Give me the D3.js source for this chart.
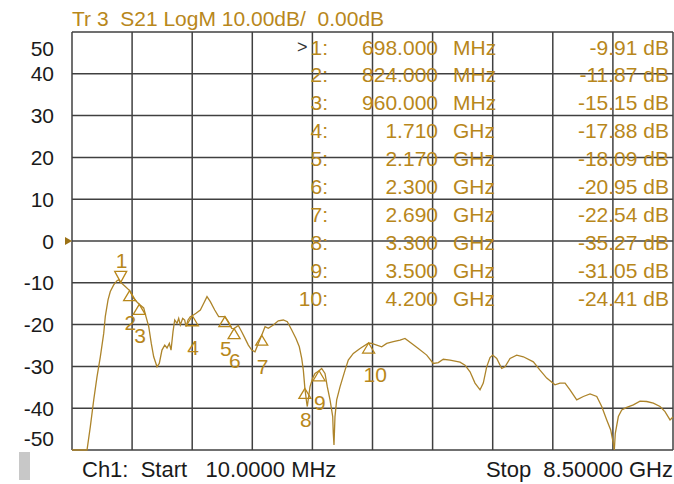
<!DOCTYPE html>
<html>
<head>
<meta charset="utf-8">
<script src="https://cdn.jsdelivr.net/npm/d3@7"></script>
<style>
  body { margin: 0; background: #fff; }
  text { font-family: "Liberation Sans", Arial, sans-serif; }
</style>
</head>
<body>
<div id="chart"></div>
<script>
var svgWidth = 674, svgHeight = 484;
var gold = "#b8871b", traceCol = "#ad842a", gridCol = "#404040";

// trace (GHz, dB)
var traceFreq = [0.010, 0.222, 0.269, 0.317, 0.363, 0.410, 0.458, 0.480, 0.519, 0.551,
  0.599, 0.646, 0.670, 0.698, 0.763, 0.824, 0.882, 0.928, 0.960, 1.023,
  1.055, 1.094, 1.130, 1.164, 1.211, 1.243, 1.281, 1.320, 1.352, 1.385,
  1.409, 1.437, 1.461, 1.493, 1.517, 1.540, 1.574, 1.602, 1.621, 1.649,
  1.681, 1.710, 1.762, 1.823, 1.871, 1.917, 1.964, 2.026, 2.082, 2.170,
  2.218, 2.266, 2.300, 2.359, 2.407, 2.454, 2.501, 2.549, 2.595, 2.642,
  2.690, 2.737, 2.783, 2.854, 2.924, 2.995, 3.052, 3.114, 3.174, 3.221,
  3.255, 3.278, 3.300, 3.326, 3.334, 3.372, 3.410, 3.443, 3.500, 3.537,
  3.584, 3.617, 3.655, 3.693, 3.701, 3.711, 3.725, 3.749, 3.796, 3.867,
  3.913, 3.984, 4.079, 4.200, 4.244, 4.315, 4.385, 4.456, 4.549, 4.644,
  4.714, 4.809, 4.902, 5.021, 5.114, 5.185, 5.255, 5.350, 5.491, 5.562,
  5.633, 5.703, 5.774, 5.820, 5.868, 5.915, 5.953, 6.010, 6.080, 6.127,
  6.198, 6.292, 6.386, 6.527, 6.621, 6.716, 6.833, 6.904, 6.975, 7.045,
  7.140, 7.233, 7.328, 7.423, 7.493, 7.564, 7.620, 7.657, 7.671, 7.685,
  7.728, 7.776, 7.846, 7.940, 8.034, 8.129, 8.222, 8.317, 8.387, 8.458, 8.500];
var traceDb = [-50.0, -50.0, -44.4, -38.0, -32.5, -27.7, -22.1, -18.1, -14.1, -12.1,
  -10.5, -9.5, -9.3, -9.91, -10.9, -11.87, -13.7, -14.6, -15.15, -16.0,
  -18.1, -20.5, -24.5, -27.7, -30.1, -29.3, -26.1, -24.9, -25.6, -24.5,
  -26.1, -21.7, -18.9, -19.7, -18.5, -20.1, -18.5, -18.9, -20.5, -18.9,
  -18.1, -17.88, -17.3, -16.5, -14.9, -13.3, -14.5, -16.5, -18.1, -18.09,
  -19.3, -20.9, -20.95, -20.2, -21.7, -23.3, -24.9, -26.1, -26.5, -24.5,
  -22.54, -20.5, -20.9, -20.1, -19.1, -18.9, -19.3, -21.3, -23.3, -25.3,
  -28.1, -30.9, -35.27, -38.8, -39.6, -34.9, -32.8, -31.7, -31.05, -30.5,
  -31.7, -34.9, -38.0, -42.0, -46.0, -48.8, -42.0, -38.0, -34.9, -30.9,
  -28.5, -26.9, -25.7, -24.41, -24.5, -24.9, -25.3, -24.5, -24.1, -23.7,
  -23.3, -24.5, -25.7, -27.3, -29.3, -29.1, -28.3, -28.5, -29.0, -29.7,
  -31.3, -34.0, -35.6, -34.0, -30.1, -27.9, -27.3, -28.1, -30.5, -30.1,
  -28.1, -27.3, -27.7, -28.9, -30.9, -32.8, -34.4, -34.0, -34.0, -35.6,
  -38.0, -37.2, -36.6, -37.2, -39.6, -42.8, -45.2, -48.4, -50.0, -46.0,
  -42.0, -40.4, -39.8, -39.2, -38.3, -38.4, -38.8, -39.6, -40.8, -42.8, -42.1];

// markers
var markerNum = [1, 2, 3, 4, 5, 6, 7, 8, 9, 10];
var markerFreq = [0.698, 0.824, 0.960, 1.710, 2.170, 2.300, 2.690, 3.300, 3.500, 4.200];
var markerDb = [-9.91, -11.87, -15.15, -17.88, -18.09, -20.95, -22.54, -35.27, -31.05, -24.41];

var yTicks = [50, 40, 30, 20, 10, 0, -10, -20, -30, -40, -50];

var svg = d3.select("#chart").append("svg")
  .attr("width", svgWidth)
  .attr("height", svgHeight);

var x = d3.scaleLinear().domain([0.010, 8.5]).range([72, 673]);
var y = d3.scaleLinear().domain([-50, 50]).range([450, 32]);

// grid
var xGrid = d3.range(11).map(i => 0.010 + i * (8.49 / 10));
svg.append("g").selectAll("line").data(xGrid).enter().append("line")
  .attr("x1", d => x(d)).attr("x2", d => x(d))
  .attr("y1", y(50)).attr("y2", y(-50))
  .attr("stroke", gridCol).attr("stroke-width", 1.5);
svg.append("g").selectAll("line").data(yTicks).enter().append("line")
  .attr("x1", x(0.010)).attr("x2", x(8.5))
  .attr("y1", d => y(d)).attr("y2", d => y(d))
  .attr("stroke", gridCol).attr("stroke-width", 1.5);

// y labels, the end ones pulled inside
svg.append("g").selectAll("text").data(yTicks).enter().append("text")
  .attr("x", 54)
  .attr("y", d => Math.max(y(50) + 16, Math.min(y(-50) - 12, y(d))))
  .attr("dy", "0.36em")
  .attr("text-anchor", "end")
  .attr("font-size", 21)
  .attr("fill", "#1a1a1a")
  .text(d => d);

// title
svg.append("text").attr("x", 72).attr("y", 26)
  .attr("font-size", 21).attr("fill", gold)
  .attr("xml:space", "preserve")
  .text("Tr 3  S21 LogM 10.00dB/  0.00dB");

// reference level marker
svg.append("path")
  .attr("d", "M" + (x(0.010) - 7) + "," + (y(0) - 4) + "L" + x(0.010) + "," + y(0) + "L" + (x(0.010) - 7) + "," + (y(0) + 4) + "Z")
  .attr("fill", "#9c7216");

// marker table
var rows = svg.append("g").selectAll("g").data(markerNum).enter().append("g")
  .attr("transform", (d, i) => "translate(0," + (47 + i * 27.9) + ")");
rows.append("text").attr("x", 328).attr("dy", "0.36em").attr("text-anchor", "end")
  .attr("font-size", 21).attr("fill", gold).text(d => d + ":");
rows.append("text").attr("x", 438).attr("dy", "0.36em").attr("text-anchor", "end")
  .attr("font-size", 21).attr("fill", gold)
  .text((d, i) => markerFreq[i] < 1 ? (markerFreq[i] * 1000).toFixed(3) : markerFreq[i].toFixed(3));
rows.append("text").attr("x", 453).attr("dy", "0.36em")
  .attr("font-size", 21).attr("fill", gold)
  .text((d, i) => markerFreq[i] < 1 ? "MHz" : "GHz");
rows.append("text").attr("x", 669).attr("dy", "0.36em").attr("text-anchor", "end")
  .attr("font-size", 21).attr("fill", gold)
  .text((d, i) => markerDb[i].toFixed(2) + " dB");
svg.append("text").attr("x", 297).attr("y", 47).attr("dy", "0.36em")
  .attr("font-size", 18).attr("fill", "#333").text(">");

// trace
var traceData = traceFreq.map((f, i) => [f, traceDb[i]]);
var line = d3.line().x(d => x(d[0])).y(d => y(Math.max(-50, d[1])));
svg.append("path").datum(traceData)
  .attr("d", line)
  .attr("fill", "none")
  .attr("stroke", traceCol)
  .attr("stroke-width", 1.3);

// marker symbols
var mk = svg.append("g").selectAll("g").data(markerNum).enter().append("g")
  .attr("transform", (d, i) => "translate(" + x(markerFreq[i]) + "," + y(markerDb[i]) + ")");
mk.append("path")
  .attr("d", (d, i) => i == 0 ? "M0,0L-6,-11L6,-11Z" : "M0,0L-6,10L6,10Z")
  .attr("fill", "none").attr("stroke", gold).attr("stroke-width", 1.3);
mk.append("text")
  .attr("x", -5)
  .attr("y", (d, i) => i == 0 ? -14 : 39)
  .attr("font-size", 21).attr("fill", gold)
  .text(d => d);

// footer
svg.append("rect").attr("x", 19).attr("y", 452).attr("width", 11).attr("height", 28).attr("fill", "#c8c8c8");
svg.append("text").attr("x", 82).attr("y", 477)
  .attr("font-size", 22).attr("fill", "#1a1a1a")
  .attr("xml:space", "preserve")
  .text("Ch1:  Start   10.0000 MHz");
svg.append("text").attr("x", 673).attr("y", 477).attr("text-anchor", "end")
  .attr("font-size", 22).attr("fill", "#1a1a1a")
  .attr("xml:space", "preserve")
  .text("Stop  8.50000 GHz");
</script>
</body>
</html>
